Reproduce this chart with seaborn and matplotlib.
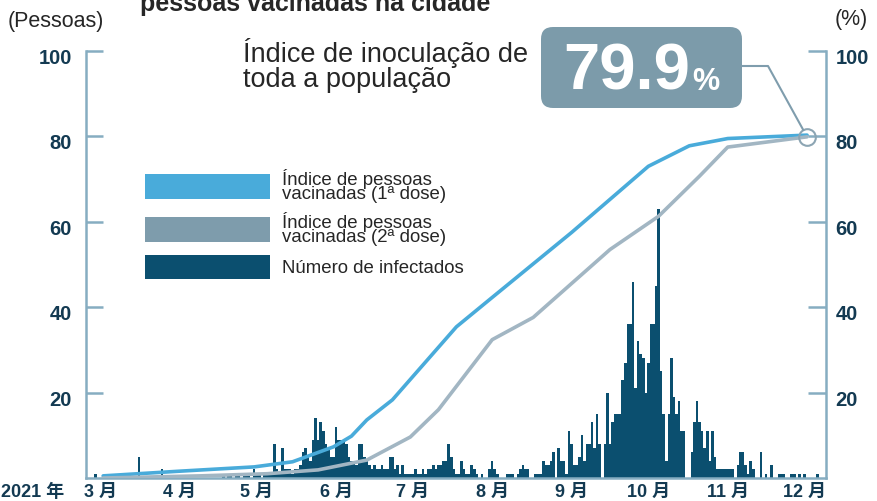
import numpy as np
import pandas as pd
import seaborn as sns
import matplotlib.pyplot as plt
from matplotlib.patches import Patch, FancyBboxPatch
from matplotlib.lines import Line2D
from matplotlib.transforms import IdentityTransform, ScaledTranslation

# daily number of infected people, starting 27 Feb 2021
feb_cases = [1, 0]
mar_cases = [0, 0, 0, 0, 0, 0, 0, 0, 0, 0, 0, 0, 0, 0, 0, 5, 0, 0, 0, 0,
             0, 0, 0, 0, 2, 0, 0, 0, 0, 0, 0]
apr_cases = [0, 0, 0, 0, 0, 0, 0, 0, 0, 0, 0, 0, 0, 0, 0, 0, 0, 1, 0, 1,
             1, 0, 1, 1, 0, 1, 1, 1, 0, 2]
may_cases = [1, 1, 0, 1, 1, 1, 1, 8, 2, 1, 7, 2, 2, 2, 1, 2, 2, 3, 6, 7,
             5, 4, 9, 14, 9, 13, 11, 8, 7, 5, 5]
jun_cases = [12, 9, 9, 9, 8, 5, 4, 4, 3, 8, 8, 5, 4, 3, 2, 3, 2, 2, 3, 2,
             2, 5, 5, 2, 3, 1, 3, 1, 1, 1]
jul_cases = [1, 2, 1, 1, 2, 1, 2, 2, 3, 2, 3, 3, 4, 4, 8, 5, 2, 1, 1, 4,
             2, 1, 1, 3, 2, 1, 0, 1, 0, 0, 2]
aug_cases = [4, 2, 1, 0, 0, 0, 1, 1, 1, 0, 1, 2, 3, 2, 2, 0, 0, 1, 1, 1,
             4, 3, 3, 4, 6, 0, 7, 4, 4, 1, 11]
sep_cases = [8, 3, 3, 5, 10, 4, 8, 8, 13, 7, 15, 8, 0, 8, 20, 8, 13, 15, 15, 15,
             23, 27, 36, 36, 46, 21, 32, 29, 28, 20]
oct_cases = [27, 36, 36, 45, 63, 25, 15, 4, 15, 28, 19, 15, 18, 11, 11, 0, 0, 6, 13, 18,
             13, 11, 7, 11, 4, 11, 5, 2, 2, 2, 2]
nov_cases = [2, 2, 2, 0, 3, 6, 6, 3, 1, 4, 2, 0, 0, 6, 0, 1, 0, 3, 0, 0,
             1, 1, 1, 0, 0, 1, 1, 0, 1, 0]
dec_cases = [1, 0, 0, 0, 0, 1, 0]

# vaccination rate (%)
dose1_dates = ["2021-03-02", "2021-04-01", "2021-04-30", "2021-05-15", "2021-05-31",
               "2021-06-07", "2021-06-13", "2021-06-23", "2021-07-18", "2021-07-31",
               "2021-09-01", "2021-10-01", "2021-10-17", "2021-11-01", "2021-12-02"]
dose1_rate = [0.5, 1.6, 2.6, 3.8, 7.3, 9.8, 13.6, 18.3, 35.4, 41.8,
              57.5, 73.0, 77.8, 79.5, 80.3]
dose2_dates = ["2021-03-02", "2021-04-09", "2021-05-05", "2021-05-25", "2021-06-13",
               "2021-06-30", "2021-07-11", "2021-08-01", "2021-08-17", "2021-09-16",
               "2021-10-05", "2021-10-21", "2021-11-01", "2021-12-02"]
dose2_rate = [0.0, 0.5, 1.0, 1.9, 4.2, 9.6, 16.0, 32.4, 37.6, 53.5,
              61.3, 70.7, 77.5, 79.9]

month_labels = ["3 月", "4 月", "5 月", "6 月", "7 月", "8 月", "9 月", "10 月", "11 月", "12 月"]
legend_labels = ["Índice de pessoas\nvacinadas (1ª dose)",
                 "Índice de pessoas\nvacinadas (2ª dose)",
                 "Número de infectados"]

BLUE = "#49ABDA"
GRAY_LINE = "#A2B6C3"
GRAY_LEG = "#7E9CAC"
BAR = "#0B4F6F"
AXIS = "#86ADC1"
NAVY = "#133A52"

sns.set_style("white")
plt.rcParams["font.family"] = ["Liberation Sans", "Noto Sans CJK JP", "DejaVu Sans"]

W, H = 878, 501
base = pd.Timestamp("2021-03-01")
cases = (feb_cases + mar_cases + apr_cases + may_cases + jun_cases + jul_cases
         + aug_cases + sep_cases + oct_cases + nov_cases + dec_cases)
case_t = np.asarray((pd.date_range("2021-02-27", periods=len(cases)) - base).days)
d1_t = np.asarray((pd.to_datetime(dose1_dates) - base).days)
d2_t = np.asarray((pd.to_datetime(dose2_dates) - base).days)
month_t = np.asarray((pd.date_range("2021-03-01", "2021-12-01", freq="MS") - base).days)

fig = plt.figure(figsize=(W / 100, H / 100), dpi=100)
ax = fig.add_axes([86 / W, 1 - 478 / H, (826 - 86) / W, (478 - 51) / H])

sns.barplot(x=case_t, y=cases, native_scale=True, width=1.0, color=BAR,
            saturation=1, linewidth=0, errorbar=None, ax=ax)
for p in ax.patches:
    p.set_antialiased(False)

ax2 = ax.twinx()
sns.lineplot(x=d1_t, y=dose1_rate, ax=ax2, color=BLUE, linewidth=2.6)
sns.lineplot(x=d2_t, y=dose2_rate, ax=ax2, color=GRAY_LINE, linewidth=2.6)

for a in (ax, ax2):
    a.set_xlim(-5.7, 283.4)
    a.set_ylim(0, 100)
    a.set_yticks([20, 40, 60, 80, 100])
    a.set_xlabel("")
    a.set_ylabel("")
    for s in a.spines.values():
        s.set_color(AXIS)
        s.set_linewidth(1.8)
    a.spines["top"].set_visible(False)

ax.spines["right"].set_visible(False)
ax2.spines["left"].set_visible(False)
ax2.spines["bottom"].set_visible(False)

ax.set_xticks(month_t)
ax.set_xticklabels(month_labels, fontsize=13, fontweight="bold", color=NAVY)
ax.tick_params(axis="x", length=0, pad=4)
ax.tick_params(axis="y", direction="in", length=12, width=1.8, color=AXIS,
               pad=10, labelsize=14.5, labelcolor=NAVY)
ax2.tick_params(axis="y", direction="in", length=13, width=1.8, color=AXIS,
                pad=7, labelsize=14.5, labelcolor=NAVY)

# labels sit a little below their ticks in the original
drop = ScaledTranslation(0, -4 / 72, fig.dpi_scale_trans)
for lab in ax.get_yticklabels() + ax2.get_yticklabels():
    lab.set_fontweight("bold")
    lab.set_transform(lab.get_transform() + drop)

# end marker of the vaccination lines
end_t, end_v = d2_t[-1], dose2_rate[-1]
ax2.plot([end_t], [end_v], marker="o", ms=12, mfc="none", mec="#8CA5B3", mew=1.5)

leg = ax2.legend([Patch(facecolor=c, edgecolor="none") for c in (BLUE, GRAY_LEG, BAR)],
                 legend_labels, loc="upper left",
                 bbox_to_anchor=(145 / W, 1 - 169 / H), bbox_transform=fig.transFigure,
                 frameon=False, fontsize=13.4, handlelength=6.7, handleheight=1.65,
                 handletextpad=0.65, labelspacing=0.45, borderpad=0, borderaxespad=0)
for t in leg.get_texts():
    t.set_linespacing(0.8)

def fx(x):
    return x / W

def fy(y):
    return 1 - y / H

fig.text(fx(140), fy(11), "pessoas vacinadas na cidade", fontsize=18,
         fontweight="bold", va="baseline", ha="left")
fig.text(fx(8), fy(22), "(Pessoas)", fontsize=15.5, va="center", ha="left")
fig.text(fx(835), fy(20), "(%)", fontsize=15.5, va="center", ha="left")
fig.text(fx(1), fy(492), "2021 年", fontsize=13, fontweight="bold",
         color=NAVY, va="center", ha="left")
fig.text(fx(243), fy(38), "Índice de inoculação de\ntoda a população",
         fontsize=19.5, va="top", ha="left", linespacing=0.95)

box = FancyBboxPatch((541, H - 108), 201, 81, boxstyle="round,pad=0,rounding_size=12",
                     facecolor="#7C9BAA", edgecolor="none", transform=IdentityTransform())
fig.add_artist(box)
fig.text(fx(563), fy(90), "79.9", fontsize=47, fontweight="bold", color="white",
         va="baseline", ha="left")
fig.text(fx(692), fy(90), "%", fontsize=22, fontweight="bold", color="white",
         va="baseline", ha="left")

cx, cy = ax2.transData.transform((end_t, end_v))
kx, ky = 768, H - 66
dx, dy = cx - kx, cy - ky
dist = np.hypot(dx, dy)
ex, ey = cx - dx / dist * 8, cy - dy / dist * 8
fig.add_artist(Line2D([742, kx, ex], [H - 66, ky, ey], color="#7F9DAD", lw=1.5,
                      transform=IdentityTransform()))

fig.savefig("out.png", dpi=100)
